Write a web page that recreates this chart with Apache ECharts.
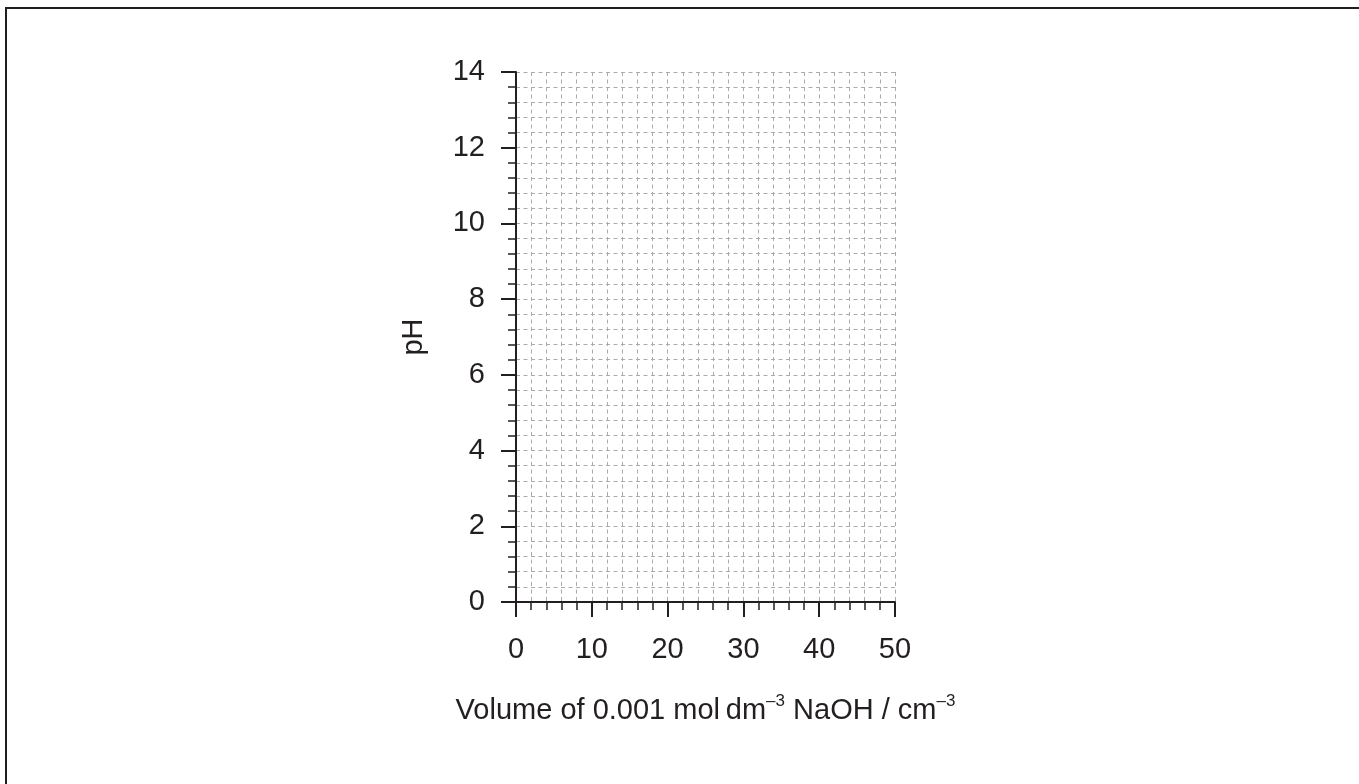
<!DOCTYPE html>
<html>
<head>
<meta charset="utf-8">
<script src="https://cdn.jsdelivr.net/npm/echarts@6/dist/echarts.min.js"></script>
<style>
html,body{margin:0;padding:0;background:#fff;}
#chart{width:1359px;height:784px;}
</style>
</head>
<body>
<div id="chart"></div>
<script>
// Axis ranges and tick settings (the chart is a blank grid, no series data)
const xRange = [0, 50];
const xMajorStep = 10;
const yRange = [0, 14];
const yMajorStep = 2;
const minorDivisions = 5;
const xAxisTitle = 'Volume of 0.001 mol\u2009dm{sup|\u20133} NaOH / cm{sup|\u20133}';
const yAxisTitle = 'pH';
const seriesData = [];

const ink = '#231f20';
const gridColor = '#ababab';
const font = 'Liberation Sans, Arial, Helvetica, sans-serif';

const chart = echarts.init(document.getElementById('chart'));
const dashed = { color: gridColor, width: 1, type: [4, 3.5] };

chart.setOption({
  animation: false,
  backgroundColor: '#fff',
  graphic: [{
    type: 'rect',
    shape: { x: 6, y: 8, width: 1400, height: 800 },
    style: { fill: 'none', stroke: ink, lineWidth: 2 },
    silent: true, z: 100
  }],
  grid: { left: 516, top: 72, right: 1359 - 895, bottom: 784 - 602, containLabel: false },
  xAxis: {
    type: 'value',
    min: xRange[0], max: xRange[1], interval: xMajorStep,
    axisLine: { show: true, onZero: false, lineStyle: { color: ink, width: 2 } },
    axisTick: { show: true, inside: false, length: 15, lineStyle: { color: ink, width: 2 } },
    minorTick: { show: true, splitNumber: minorDivisions, length: 8, lineStyle: { color: ink, width: 1.5 } },
    splitLine: { show: true, lineStyle: dashed },
    minorSplitLine: { show: true, lineStyle: dashed },
    axisLabel: { color: ink, fontFamily: font, fontSize: 29, margin: 33 },
    name: xAxisTitle,
    nameLocation: 'middle',
    nameGap: 91,
    nameTextStyle: {
      color: ink, fontFamily: font, fontSize: 29,
      rich: { sup: { fontSize: 17, color: ink, fontFamily: font, verticalAlign: 'top', lineHeight: 36 } }
    }
  },
  yAxis: {
    type: 'value',
    min: yRange[0], max: yRange[1], interval: yMajorStep,
    axisLine: { show: true, onZero: false, lineStyle: { color: ink, width: 2 } },
    axisTick: { show: true, inside: false, length: 15, lineStyle: { color: ink, width: 2 } },
    minorTick: { show: true, splitNumber: minorDivisions, length: 8, lineStyle: { color: ink, width: 1.5 } },
    splitLine: { show: true, lineStyle: dashed },
    minorSplitLine: { show: true, lineStyle: dashed },
    axisLabel: { color: ink, fontFamily: font, fontSize: 29, margin: 31 },
    name: yAxisTitle,
    nameLocation: 'middle',
    nameRotate: 90,
    nameGap: 88,
    nameTextStyle: { color: ink, fontFamily: font, fontSize: 29 }
  },
  series: [{ type: 'scatter', data: seriesData, silent: true }]
});
</script>
</body>
</html>
